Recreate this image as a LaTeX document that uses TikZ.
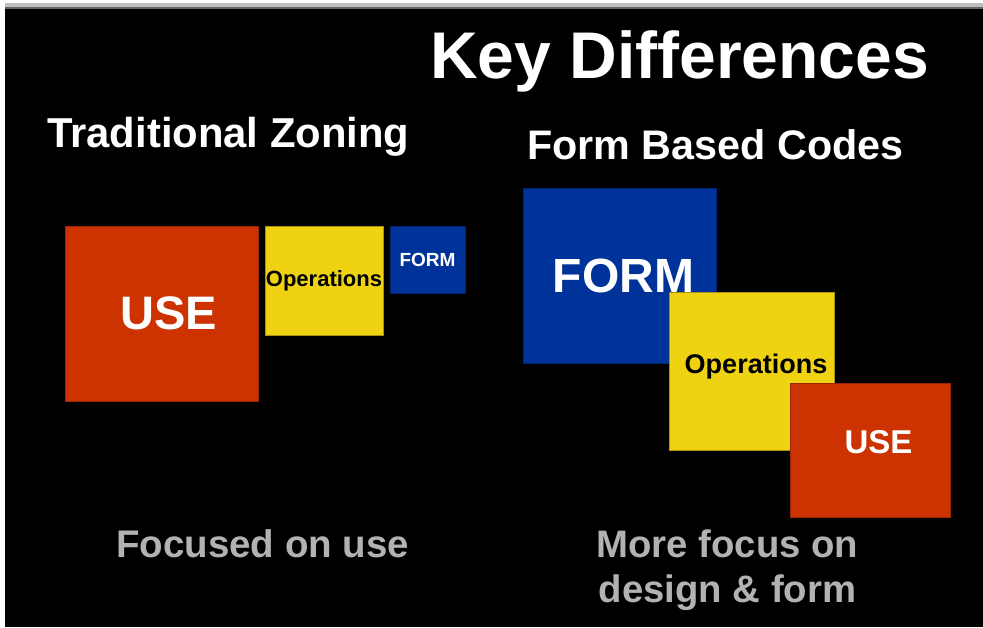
\documentclass[tikz,border=0pt]{standalone}
\usepackage{fontspec}
\setmainfont{Liberation Sans}
\usetikzlibrary{calc}

\definecolor{zonered}{RGB}{204,51,0}
\definecolor{zoneyellow}{RGB}{239,210,18}
\definecolor{zoneblue}{RGB}{0,51,153}
\definecolor{captiongray}{RGB}{178,178,178}

% bold face at a given size and line spacing
\newcommand{\sz}[2]{\fontsize{#1}{#2}\selectfont\bfseries}

\begin{document}
\begin{tikzpicture}[x=1pt, y=-1pt,
    box/.style={rectangle, inner sep=0pt, line width=0.8pt},
    redbox/.style={box, fill=zonered, draw=zonered!75!black, text=white},
    yellowbox/.style={box, fill=zoneyellow, draw=zoneyellow!70!black, text=black},
    bluebox/.style={box, fill=zoneblue, draw=zoneblue!75!black, text=white},
    boxtext/.style={anchor=base, inner sep=0pt},
    heading/.style={anchor=base west, inner sep=0pt, text=white},
    caption/.style={inner sep=0pt, text=captiongray}]
    \useasboundingbox (0,0) rectangle (983,627);
    \fill[white] (0,0) rectangle (983,627);
    \fill[black!25] (5,3) rectangle (983,7);
    \fill[black!60] (5,7) rectangle (983,9);
    \fill[black] (5,9) rectangle (983,627);

    \node[heading, font=\sz{66}{70}] (title) at (430,78) {Key Differences};
    \node[heading, font=\sz{41.8}{48}] (tradhead) at (47,147) {Traditional Zoning};
    \node[heading, font=\sz{41.3}{48}] (formhead) at (527,159) {Form Based Codes};

    % traditional zoning: use first
    \node[redbox, minimum width=193pt, minimum height=175pt] (useL) at (161.5,313.5) {};
    \node[boxtext, text=white, font=\sz{47}{50}] (useLtext) at ($(useL.center)+(7,15.5)$) {USE};
    \node[yellowbox, minimum width=118pt, minimum height=109pt, font=\sz{22}{26}] (opsL) at (324,280.5) {Operations};
    \node[bluebox, minimum width=75pt, minimum height=67pt, font=\sz{19}{22}] (formL) at (427.5,259.5) {FORM};

    % form based codes: form first
    \node[bluebox, minimum width=193pt, minimum height=175pt] (formR) at (619.5,275.5) {};
    \node[boxtext, text=white, font=\sz{48}{50}] (formRtext) at ($(formR.center)+(4,16.5)$) {FORM};
    \node[yellowbox, minimum width=165pt, minimum height=158pt] (opsR) at (751.5,371) {};
    \node[boxtext, font=\sz{27}{30}] (opsRtext) at ($(opsR.center)+(4.5,2)$) {Operations};
    \node[redbox, minimum width=160pt, minimum height=134pt] (useR) at (870,450) {};
    \node[boxtext, text=white, font=\sz{33}{36}] (useRtext) at ($(useR.center)+(8.5,3)$) {USE};

    \node[caption, anchor=base west, font=\sz{38.5}{45}] (tradnote) at (116,557) {Focused on use};
    \node[caption, anchor=base, align=center, font=\sz{38.3}{45}] (formnote) at (727.5,602) {More focus on\\design \& form};
\end{tikzpicture}
\end{document}
